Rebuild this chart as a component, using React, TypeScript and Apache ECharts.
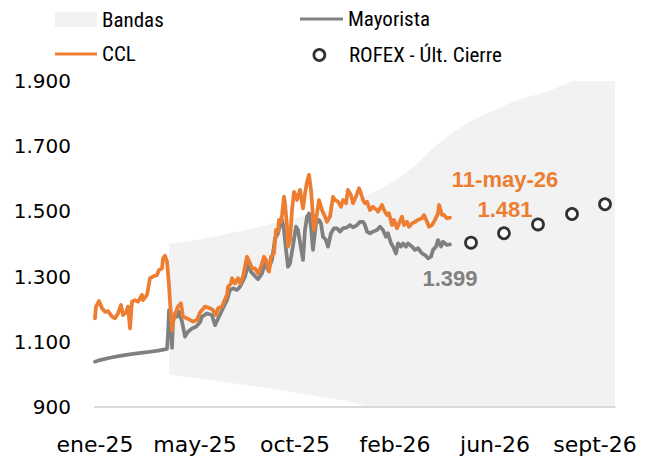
import React, { useEffect, useRef } from "react";
import * as echarts from "echarts";

// Eje X: posición en ruedas (la etiqueta de cada marca, cada 100 ruedas)
const etiquetasX = ["ene-25", "may-25", "oct-25", "feb-26", "jun-26", "sept-26"];

// CCL
const ruedasCCL = [0,1,4,7,10,13,17,20,23,26,28,31,33,35,37,40,43,47,48,52,55,58,62,64,67,68,70,72,74,75,77,78,81,83,86,88,92,95,98,102,105,110,115,118,121,123,127,129,132,133,136,137,140,143,145,148,152,155,157,160,163,166,169,171,173,174,176,179,181,183,184,186,187,189,190,192,193,195,197,199,201,202,205,208,210,212,214,216,218,219,222,224,227,230,232,235,238,240,243,246,248,251,253,256,258,261,264,266,268,270,272,275,278,282,283,287,289,292,294,297,299,302,304,307,309,312,314,317,320,323,327,329,332,334,337,340,343,344,347,349,352,355];
const valoresCCL = [1172,1208,1225,1203,1192,1194,1177,1172,1187,1213,1182,1190,1208,1141,1223,1228,1223,1244,1228,1244,1295,1300,1305,1320,1325,1356,1364,1346,1274,1223,1136,1162,1192,1208,1218,1177,1172,1167,1162,1167,1190,1208,1203,1197,1182,1203,1208,1223,1244,1269,1279,1295,1279,1295,1279,1300,1361,1341,1325,1325,1310,1330,1361,1351,1330,1315,1361,1371,1443,1438,1474,1468,1489,1545,1525,1453,1392,1412,1504,1560,1545,1535,1566,1509,1555,1591,1612,1566,1484,1443,1494,1535,1504,1484,1468,1484,1545,1535,1530,1514,1535,1525,1566,1550,1525,1545,1571,1555,1535,1525,1530,1504,1514,1504,1499,1520,1504,1489,1494,1458,1474,1448,1463,1484,1458,1468,1453,1463,1468,1474,1479,1489,1468,1453,1458,1474,1494,1520,1489,1489,1479,1481];

// Mayorista
const ruedasMay = [0,5,15,25,38,52,63,70,72,73,74,76,77,78,80,82,84,87,90,93,97,101,105,107,112,117,120,124,128,132,135,138,142,145,150,153,156,159,163,167,170,173,177,180,183,185,187,189,191,193,195,198,201,203,206,208,210,212,214,216,218,221,224,226,228,231,233,236,239,242,245,248,252,255,258,262,265,268,270,272,275,278,282,285,288,291,293,296,298,301,303,306,308,311,313,317,320,323,327,330,333,336,338,341,343,346,348,352,355];
const valoresMay = [1039,1044,1051,1057,1063,1068,1073,1077,1078,1121,1197,1151,1081,1162,1187,1177,1192,1162,1116,1131,1141,1146,1160,1177,1187,1182,1151,1177,1203,1228,1259,1264,1259,1269,1300,1336,1315,1305,1292,1310,1341,1320,1351,1417,1433,1458,1474,1443,1382,1330,1340,1395,1453,1443,1387,1351,1443,1484,1494,1453,1382,1463,1474,1463,1422,1412,1392,1433,1448,1448,1438,1448,1451,1458,1451,1458,1468,1468,1458,1438,1433,1438,1443,1453,1443,1422,1433,1402,1392,1371,1402,1392,1402,1392,1402,1392,1382,1387,1371,1366,1356,1361,1382,1392,1412,1392,1407,1397,1399];

// Bandas cambiarias
const ruedasBanda = [74,105,155,205,235,245,262,275,285,292,308,325,342,358,375,392,422,452,480,520];
const bandaSuperior = [1400,1414,1445,1484,1505,1515,1535,1555,1568,1581,1612,1655,1705,1742,1775,1801,1842,1867,1903,1950];
const bandaInferior = [1000,987,966,942,927,922,911,897,890,885,874,862,850,841,828,815,794,774,755,728];

// ROFEX - último cierre
const ruedasRofex = [376,409,443,477,510];
const valoresRofex = [1404,1433,1460,1492,1522];

const ultimaFecha = "11-may-26";

const NARANJA = "#ED7D31";
const GRIS = "#808080";
const BANDA = "#F2F2F2";

const miles = (v: number) => {
  const n = Math.round(v);
  if (n < 1000) return String(n);
  return Math.floor(n / 1000) + "." + String(n % 1000).padStart(3, "0");
};

export default function App() {
  const ref = useRef<HTMLDivElement>(null);
  useEffect(() => {
    document.body.style.margin = "0";
    if (!ref.current) return;
    const chart = echarts.init(ref.current, undefined, { renderer: "svg" });
    const legendText = {
      fontFamily: "'Liberation Sans Narrow', 'Roboto Condensed', 'Liberation Sans', sans-serif",
      fontSize: 21,
      color: "#000",
    };
    const lastCCL = valoresCCL.length - 1;
    const lastMay = valoresMay.length - 1;
    chart.setOption({
      animation: false,
      backgroundColor: "#fff",
      grid: { left: 95, right: 35, top: 81, bottom: 49, containLabel: false },
      legend: [
        {
          data: [{ name: "Bandas", icon: "rect", itemStyle: { color: BANDA } }],
          left: 55, top: 9, itemWidth: 42, itemHeight: 15, padding: 0,
          selectedMode: false, textStyle: legendText,
        },
        {
          data: [{ name: "Mayorista", icon: "rect", itemStyle: { color: GRIS } }],
          left: 300, top: 8.5, itemWidth: 43, itemHeight: 3, padding: 0,
          selectedMode: false, textStyle: legendText,
        },
        {
          data: [{ name: "CCL", icon: "rect", itemStyle: { color: NARANJA } }],
          left: 55, top: 43.5, itemWidth: 42, itemHeight: 3, padding: 0,
          selectedMode: false, textStyle: legendText,
        },
        {
          data: [{ name: "ROFEX - Últ. Cierre", icon: "circle", itemStyle: { color: "#fff", borderColor: "#000", borderWidth: 2.75 } }],
          left: 312.5, top: 44.5, itemWidth: 11, itemHeight: 11, padding: 0,
          selectedMode: false, textStyle: { ...legendText, padding: [0, 0, 0, 19] },
        },
      ],
      xAxis: {
        type: "value",
        min: 0,
        max: 520,
        interval: 100,
        z: 10,
        axisLine: { show: true, lineStyle: { color: "#D9D9D9", width: 2 } },
        axisTick: { show: false },
        splitLine: { show: false },
        axisLabel: {
          margin: 26,
          fontFamily: "'DejaVu Sans', sans-serif",
          fontSize: 22,
          color: "#000",
          formatter: (v: number) => (v % 100 === 0 ? etiquetasX[v / 100] ?? "" : ""),
        },
      },
      yAxis: {
        type: "value",
        min: 900,
        max: 1900,
        interval: 200,
        axisLine: { show: false },
        axisTick: { show: false },
        splitLine: { show: false },
        axisLabel: {
          margin: 24,
          fontFamily: "'DejaVu Sans', sans-serif",
          fontSize: 20,
          color: "#000",
          formatter: (v: number) => miles(v),
        },
      },
      series: [
        {
          name: "Bandas",
          type: "line",
          data: ruedasBanda.map((x, i) => [x, bandaSuperior[i]]),
          symbol: "none",
          itemStyle: { color: BANDA },
          lineStyle: { width: 0, opacity: 0 },
          areaStyle: { color: BANDA, opacity: 1, origin: "start" },
          silent: true,
          z: 1,
        },
        {
          name: "bandaInferior",
          type: "line",
          data: ruedasBanda.map((x, i) => [x, bandaInferior[i]]),
          symbol: "none",
          itemStyle: { color: "#fff" },
          lineStyle: { width: 0, opacity: 0 },
          areaStyle: { color: "#fff", opacity: 1, origin: "start" },
          silent: true,
          z: 2,
        },
        {
          name: "Mayorista",
          type: "line",
          data: ruedasMay.map((x, i) => [x, valoresMay[i]]),
          symbol: "none",
          itemStyle: { color: GRIS },
          lineStyle: { color: GRIS, width: 3.75, join: "round", cap: "round" },
          z: 3,
          markPoint: {
            symbol: "circle",
            symbolSize: 1,
            itemStyle: { color: "rgba(0,0,0,0)" },
            data: [
              {
                coord: [ruedasMay[lastMay], valoresMay[lastMay]],
                label: {
                  show: true,
                  position: "inside",
                  offset: [0, 34],
                  formatter: () => miles(valoresMay[lastMay]),
                  fontFamily: "'Liberation Sans', Arial, sans-serif",
                  fontWeight: "bold",
                  fontSize: 22,
                  color: GRIS,
                },
              },
            ],
          },
        },
        {
          name: "CCL",
          type: "line",
          data: ruedasCCL.map((x, i) => [x, valoresCCL[i]]),
          symbol: "none",
          itemStyle: { color: NARANJA },
          lineStyle: { color: NARANJA, width: 3.75, join: "round", cap: "round" },
          z: 4,
          markPoint: {
            symbol: "circle",
            symbolSize: 1,
            itemStyle: { color: "rgba(0,0,0,0)" },
            data: [
              {
                coord: [ruedasCCL[lastCCL], valoresCCL[lastCCL]],
                label: {
                  show: true,
                  position: "inside",
                  offset: [55, -23],
                  formatter: () => `{a|${ultimaFecha}}\n{a|${miles(valoresCCL[lastCCL])}}`,
                  rich: {
                    a: {
                      fontFamily: "'Liberation Sans', Arial, sans-serif",
                      fontWeight: "bold",
                      fontSize: 22,
                      lineHeight: 29.5,
                      color: NARANJA,
                      align: "center",
                    },
                  },
                },
              },
            ],
          },
        },
        {
          name: "ROFEX - Últ. Cierre",
          type: "scatter",
          data: ruedasRofex.map((x, i) => [x, valoresRofex[i]]),
          symbol: "circle",
          symbolSize: 11,
          itemStyle: { color: "#fff", borderColor: "#000", borderWidth: 2.75 },
          z: 5,
        },
      ],
    });
    return () => chart.dispose();
  }, []);
  return <div ref={ref} style={{ width: 650, height: 456 }} />;
}
